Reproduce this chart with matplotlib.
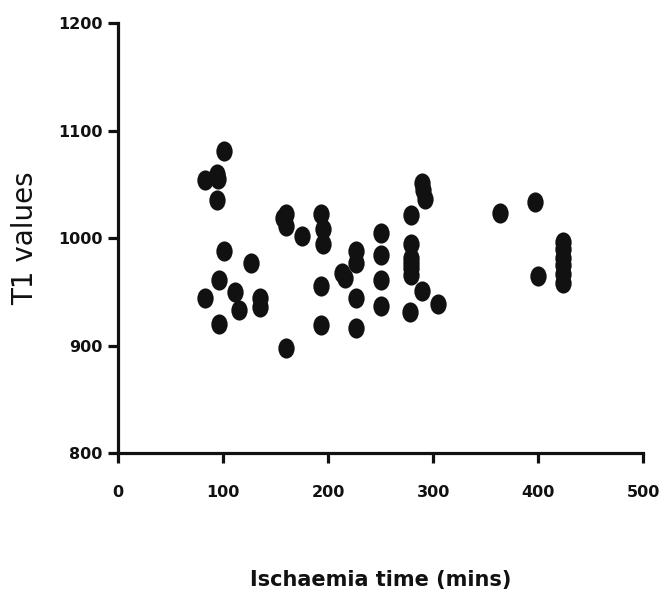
import matplotlib
matplotlib.use("Agg")
import matplotlib.pyplot as plt
from matplotlib.path import Path
from matplotlib.transforms import Affine2D

# ischaemia time (mins) and T1 values
ischaemia_time = [101, 83, 94, 95, 94, 101, 127, 96, 83, 111, 115, 96, 135, 135,
                  160, 157, 160, 175, 193, 195, 195, 193, 193, 160,
                  227, 227, 213, 216, 227, 227,
                  250, 250, 250, 250,
                  289, 290, 292, 279, 279, 279, 279, 279, 279, 289, 278, 305,
                  364, 397, 400, 424, 424, 424, 424, 424, 424]
t1_values = [1081, 1054, 1060, 1055, 1036, 988, 977, 961, 944, 950, 933, 920, 944, 936,
             1023, 1019, 1011, 1002, 1023, 1009, 995, 956, 919, 898,
             988, 977, 968, 963, 944, 917,
             1005, 984, 961, 937,
             1051, 1045, 1037, 1022, 995, 982, 977, 972, 966, 951, 931, 939,
             1024, 1034, 965, 997, 990, 982, 975, 967, 958]

x_ticks = [0, 100, 200, 300, 400, 500]
y_ticks = [800, 900, 1000, 1100, 1200]

# slightly tall ellipse, like the original markers
ellipse = Path.unit_circle().transformed(Affine2D().scale(0.81, 1.0))

fig = plt.figure(figsize=(6.67, 5.95), dpi=100)
ax = fig.add_axes([0.1769, 0.2382, 0.7876, 0.7226])

ax.scatter(ischaemia_time, t1_values, s=14.5**2, marker=ellipse, color="#111111",
           linewidths=0, zorder=3, clip_on=False)

ax.set_xlim(0, 500)
ax.set_ylim(800, 1200)
ax.set_xticks(x_ticks)
ax.set_yticks(y_ticks)
ax.set_xticklabels([str(v) for v in x_ticks], fontsize=11.5, fontweight="bold",
                   family="DejaVu Sans")
ax.set_yticklabels([str(v) for v in y_ticks], fontsize=11.5, fontweight="bold",
                   family="DejaVu Sans")

for side in ["top", "right"]:
    ax.spines[side].set_visible(False)
for side in ["left", "bottom"]:
    ax.spines[side].set_linewidth(2.3)
    ax.spines[side].set_color("#111111")

ax.tick_params(axis="both", direction="out", length=7, width=2.3, color="#111111",
               labelcolor="#111111")
ax.tick_params(axis="x", pad=16)
ax.tick_params(axis="y", pad=4)

ax.set_xlabel("Ischaemia time (mins)", fontsize=15, fontweight="bold",
              family="DejaVu Sans", color="#111111", labelpad=50)
ax.set_ylabel("T1 values", fontsize=20, family="DejaVu Sans", color="#111111",
              labelpad=14)

fig.savefig("out.png", dpi=100, facecolor="white")
